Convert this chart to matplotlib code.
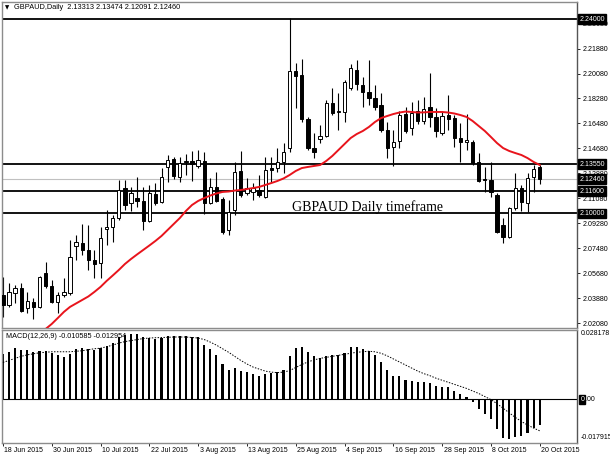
import matplotlib
matplotlib.use("Agg")
import matplotlib.pyplot as plt
import matplotlib.transforms as mtransforms

# daily GBPAUD candles, 18 Jun 2015 .. 20 Oct 2015 (89 trading days)
opens = [2.0413, 2.0341, 2.0427, 2.0463, 2.0319, 2.0363, 2.0327, 2.0571, 2.0478, 2.0363,
         2.0413, 2.0427, 2.0766, 2.0787, 2.0737, 2.0665, 2.0643, 2.0888, 2.0903, 2.0967,
         2.1183, 2.1075, 2.1111, 2.1090, 2.0945, 2.1140, 2.1083, 2.1334, 2.1392, 2.1263,
         2.1371, 2.1378, 2.1341, 2.1378, 2.1075, 2.1191, 2.1105, 2.0881, 2.1025, 2.1306,
         2.1147, 2.1155, 2.1169, 2.1119, 2.1327, 2.1327, 2.1371, 2.1471, 2.2026, 2.1997,
         2.1680, 2.1471, 2.1536, 2.1558, 2.1795, 2.1731, 2.1731, 2.1903, 2.2033, 2.1925,
         2.1875, 2.1831, 2.1781, 2.1601, 2.1479, 2.1522, 2.1716, 2.1615, 2.1738, 2.1666,
         2.1767, 2.1695, 2.1579, 2.1709, 2.1687, 2.1543, 2.1515, 2.1515, 2.1371, 2.1245,
         2.1241, 2.1133, 2.0917, 2.0831, 2.1039, 2.1183, 2.1075, 2.1263, 2.13313]
highs = [2.0543, 2.0499, 2.0485, 2.0499, 2.0435, 2.0391, 2.0550, 2.0651, 2.0521, 2.0435,
         2.0535, 2.0809, 2.0845, 2.0924, 2.0917, 2.0737, 2.0903, 2.1025, 2.0989, 2.1241,
         2.1241, 2.1191, 2.1263, 2.1191, 2.1205, 2.1219, 2.1327, 2.1421, 2.1407, 2.1407,
         2.1428, 2.1450, 2.1457, 2.1443, 2.1255, 2.1299, 2.1119, 2.1097, 2.1371, 2.1450,
         2.1255, 2.1219, 2.1277, 2.1407, 2.1407, 2.1471, 2.1507, 2.2407, 2.2083, 2.2112,
         2.1695, 2.1579, 2.1637, 2.1817, 2.1903, 2.1867, 2.1961, 2.2076, 2.2105, 2.1983,
         2.2105, 2.1925, 2.1867, 2.1659, 2.1601, 2.1738, 2.1767, 2.1803, 2.1817, 2.1839,
         2.2011, 2.1759, 2.1738, 2.1853, 2.1709, 2.1651, 2.1716, 2.1529, 2.1435, 2.1335,
         2.1371, 2.1147, 2.0967, 2.1047, 2.1291, 2.1205, 2.1291, 2.1349, 2.13474]
lows = [2.0255, 2.0327, 2.0355, 2.0291, 2.0283, 2.0240, 2.0319, 2.0463, 2.0355, 2.0283,
        2.0399, 2.0413, 2.0665, 2.0701, 2.0593, 2.0535, 2.0535, 2.0773, 2.0795, 2.0953,
        2.1025, 2.1018, 2.1047, 2.0881, 2.0939, 2.1061, 2.1075, 2.1227, 2.1249, 2.1227,
        2.1277, 2.1234, 2.1327, 2.0996, 2.1068, 2.1083, 2.0852, 2.0845, 2.0989, 2.1119,
        2.1133, 2.1097, 2.1119, 2.1111, 2.1227, 2.1299, 2.1292, 2.1443, 2.1759, 2.1659,
        2.1457, 2.1399, 2.1507, 2.1551, 2.1709, 2.1601, 2.1659, 2.1889, 2.1889, 2.1767,
        2.1781, 2.1745, 2.1587, 2.1399, 2.1342, 2.1471, 2.1579, 2.1565, 2.1644, 2.1644,
        2.1623, 2.1551, 2.1565, 2.1601, 2.1479, 2.1371, 2.1457, 2.1349, 2.1227, 2.1155,
        2.1119, 2.0859, 2.0787, 2.0823, 2.1025, 2.1018, 2.1011, 2.1155, 2.12091]
closes = [2.0341, 2.0435, 2.0463, 2.0298, 2.0370, 2.0327, 2.0543, 2.0478, 2.0363, 2.0413,
          2.0435, 2.0687, 2.0795, 2.0737, 2.0665, 2.0636, 2.0823, 2.0903, 2.0967, 2.1169,
          2.1061, 2.1147, 2.1090, 2.0945, 2.1147, 2.1075, 2.1263, 2.1385, 2.1270, 2.1363,
          2.1378, 2.1356, 2.1385, 2.1075, 2.1191, 2.1090, 2.0867, 2.1011, 2.1299, 2.1133,
          2.1183, 2.1183, 2.1133, 2.1313, 2.1313, 2.1371, 2.1443, 2.2026, 2.1990, 2.1680,
          2.1471, 2.1443, 2.1558, 2.1795, 2.1723, 2.1738, 2.1947, 2.2047, 2.1932, 2.1875,
          2.1831, 2.1767, 2.1601, 2.1471, 2.1515, 2.1709, 2.1594, 2.1723, 2.1666, 2.1752,
          2.1695, 2.1594, 2.1702, 2.1680, 2.1543, 2.1515, 2.1529, 2.1364, 2.1234, 2.1238,
          2.1155, 2.0867, 2.0831, 2.1039, 2.1183, 2.1083, 2.1255, 2.1320, 2.12460]

# red moving average (below the visible range for the first bars)
nan = float("nan")
ma = [nan, nan, nan, nan, nan, nan, nan, 2.0168, 2.0204, 2.0247,
      2.0291, 2.0327, 2.0352, 2.0377, 2.0402, 2.0435, 2.0471, 2.0514, 2.0553, 2.0593,
      2.0636, 2.0672, 2.0705, 2.0737, 2.0769, 2.0802, 2.0838, 2.0881, 2.0924, 2.0967,
      2.1018, 2.1061, 2.1090, 2.1111, 2.1129, 2.1144, 2.1155, 2.1158, 2.1165, 2.1169,
      2.1176, 2.1183, 2.1191, 2.1205, 2.1219, 2.1234, 2.1252, 2.1277, 2.1306, 2.1327,
      2.1335, 2.1342, 2.1349, 2.1378, 2.1414, 2.1457, 2.1500, 2.1543, 2.1572, 2.1594,
      2.1623, 2.1659, 2.1687, 2.1702, 2.1716, 2.1727, 2.1734, 2.1731, 2.1727, 2.1728,
      2.1731, 2.1731, 2.1731, 2.1727, 2.1720, 2.1709, 2.1695, 2.1666, 2.1630, 2.1594,
      2.1551, 2.1507, 2.1471, 2.1450, 2.1435, 2.1421, 2.1399, 2.1371, 2.1349]

macd = [0.01826, 0.01938, 0.02075, 0.02004, 0.01992, 0.01938, 0.01963, 0.01963, 0.01897, 0.01785,
        0.01731, 0.01855, 0.02034, 0.02075, 0.02063, 0.02021, 0.02075, 0.02170, 0.02270, 0.02519,
        0.02627, 0.02656, 0.02656, 0.02519, 0.02478, 0.02449, 0.02490, 0.02573, 0.02573, 0.02573,
        0.02573, 0.02544, 0.02519, 0.02212, 0.02034, 0.01785, 0.01411, 0.01204, 0.01274, 0.01162,
        0.01108, 0.01038, 0.00955, 0.01025, 0.01067, 0.01108, 0.01204, 0.01743, 0.02075, 0.02104,
        0.01938, 0.01755, 0.01689, 0.01755, 0.01797, 0.01785, 0.01897, 0.02104, 0.02104, 0.02063,
        0.01963, 0.01797, 0.01506, 0.01204, 0.00955, 0.00925, 0.00789, 0.00747, 0.00693, 0.00693,
        0.00652, 0.00540, 0.00486, 0.00486, 0.00332, 0.00195, 0.00095, -0.00112, -0.00386, -0.00593,
        -0.00830, -0.01216, -0.01589, -0.01631, -0.01565, -0.01523, -0.01382, -0.01191, -0.010585]
signal = [0.01494, 0.01577, 0.01660, 0.01743, 0.01805, 0.01847, 0.01888, 0.01909, 0.01930, 0.01930,
          0.01930, 0.01930, 0.01951, 0.01971, 0.02013, 0.02054, 0.02075, 0.02137, 0.02200, 0.02283,
          0.02345, 0.02386, 0.02428, 0.02469, 0.02490, 0.02502, 0.02511, 0.02519, 0.02532, 0.02532,
          0.02532, 0.02511, 0.02490, 0.02428, 0.02324, 0.02200, 0.02054, 0.01909, 0.01743, 0.01577,
          0.01432, 0.01307, 0.01224, 0.01141, 0.01100, 0.01079, 0.01100, 0.01162, 0.01287, 0.01411,
          0.01515, 0.01598, 0.01660, 0.01702, 0.01743, 0.01785, 0.01826, 0.01868, 0.01909, 0.01930,
          0.01951, 0.01930, 0.01868, 0.01764, 0.01639, 0.01515, 0.01390, 0.01266, 0.01141, 0.01038,
          0.00955, 0.00851, 0.00768, 0.00685, 0.00602, 0.00519, 0.00436, 0.00332, 0.00228, 0.00104,
          -0.00021, -0.00187, -0.00374, -0.00560, -0.00747, -0.00913, -0.01058, -0.01183, -0.012954]

date_labels = ["18 Jun 2015", "30 Jun 2015", "10 Jul 2015", "22 Jul 2015", "3 Aug 2015",
               "13 Aug 2015", "25 Aug 2015", "4 Sep 2015", "16 Sep 2015", "28 Sep 2015",
               "8 Oct 2015", "20 Oct 2015"]
price_ticks = [2.23680, 2.21880, 2.20080, 2.18280, 2.16480, 2.14680, 2.12880,
               2.11080, 2.09280, 2.07480, 2.05680, 2.03880, 2.02080]
levels = [2.24000, 2.13550, 2.11600, 2.10000]
bid = 2.12460
macd_max = 0.028178
macd_min = -0.017915

W, H = 610, 457
font = "Liberation Sans"
gray = "#8c8c8c"

fig = plt.figure(figsize=(W / 100, H / 100), dpi=100)
ax = fig.add_axes([2 / W, 1 - 328 / H, 575 / W, 326 / H])
ax2 = fig.add_axes([2 / W, 1 - 443 / H, 575 / W, 113 / H])

n = len(opens)
x = list(range(n))
xmin = -0.15
xmax = xmin + 575 / 6.1

# horizontal levels and bid line
for lv in levels:
    ax.axhline(lv, color="black", lw=1.3, zorder=1)
ax.axhline(bid, color="#c0c0c0", lw=0.8, zorder=1)

# candles
for i in x:
    o, h, l, c = opens[i], highs[i], lows[i], closes[i]
    ax.vlines(i, l, h, color="black", lw=0.8, zorder=2)
    bottom = min(o, c)
    height = max(abs(c - o), 0.00005)
    face = "white" if c >= o else "black"
    ax.bar(i, height, bottom=bottom, width=0.55, color=face, edgecolor="black",
           linewidth=0.7, zorder=3)

ax.plot(x, ma, color="#e8141c", lw=1.4, zorder=4)

ax.set_xlim(xmin, xmax)
ax.set_ylim(2.0175, 2.2523)
ax.set_xticks([])
ax.yaxis.tick_right()
ax.set_yticks(price_ticks)
ax.set_yticklabels(["%.5f" % t for t in price_ticks])
ax.tick_params(axis="y", direction="out", length=2.5, width=0.6, pad=1.5,
               labelsize=5.1, colors="black")
for lab in ax.get_yticklabels():
    lab.set_fontfamily(font)
for s in ax.spines.values():
    s.set_color(gray)
    s.set_linewidth(1.0)
ax.spines["right"].set_color("#555555")

tr = mtransforms.blended_transform_factory(ax.transAxes, ax.transData)
for lv in levels + [bid]:
    ax.text(1.004, lv, "%.5f" % lv, transform=tr, ha="left", va="center",
            fontsize=5.0, family=font, color="white", zorder=10, clip_on=False,
            bbox=dict(boxstyle="square,pad=0.2", fc="black", ec="black"))

# caption placed at bar position ~47.4 (x pixel 292)
ax.text(47.4, 2.1045, "GBPAUD Daily timeframe", ha="left", va="center",
        fontsize=10, family="Liberation Serif", color="black", zorder=6)

# header
fig.text(5 / W, 1 - 7.5 / H, "\u25bc", fontsize=4, family="DejaVu Sans", va="center")
fig.text(14 / W, 1 - 7.5 / H, "GBPAUD,Daily  2.13313 2.13474 2.12091 2.12460",
         fontsize=5.3, family=font, va="center")

# MACD pane
ax2.bar(x, macd, width=0.35, color="black", zorder=2)
ax2.plot(x, signal, color="black", lw=0.7, ls=(0, (1.5, 1.5)), zorder=3)
ax2.axhline(0, color="black", lw=0.8, zorder=1)
ax2.set_xlim(xmin, xmax)
ax2.set_ylim(macd_min, macd_max)
ax2.set_yticks([])
ax2.set_xticks(range(0, n, 8))
ax2.set_xticklabels([])
ax2.tick_params(axis="x", direction="out", length=2.5, width=0.6)
for s in ax2.spines.values():
    s.set_color(gray)
    s.set_linewidth(1.0)
ax2.spines["right"].set_color("#555555")

trd = mtransforms.blended_transform_factory(ax2.transData, ax2.transAxes)
for k, lab in enumerate(date_labels):
    ax2.text(k * 8 + 0.25, -0.065, lab, transform=trd, ha="left", va="center",
             fontsize=5.0, family=font, clip_on=False)

ax2.text(0.007, 0.945, "MACD(12,26,9) -0.010585 -0.012954", transform=ax2.transAxes,
         ha="left", va="center", fontsize=5.2, family=font)
ax2.text(1.006, 0.965, "%.6f" % macd_max, transform=ax2.transAxes, ha="left",
         va="center", fontsize=5.0, family=font, clip_on=False)
ax2.text(1.006, 0.045, "%.6f" % macd_min, transform=ax2.transAxes, ha="left",
         va="center", fontsize=5.0, family=font, clip_on=False)
tr2 = mtransforms.blended_transform_factory(ax2.transAxes, ax2.transData)
ax2.annotate("0", (1.006, 0), xycoords=tr2, ha="left", va="center", fontsize=5.0,
             family=font, color="white", annotation_clip=False,
             bbox=dict(boxstyle="square,pad=0.15", fc="black", ec="black"))
ax2.annotate(".00", (1.006, 0), xycoords=tr2, xytext=(3.4, 0),
             textcoords="offset points", ha="left", va="center", fontsize=5.0,
             family=font, annotation_clip=False)

fig.savefig("out.png", dpi=100)
